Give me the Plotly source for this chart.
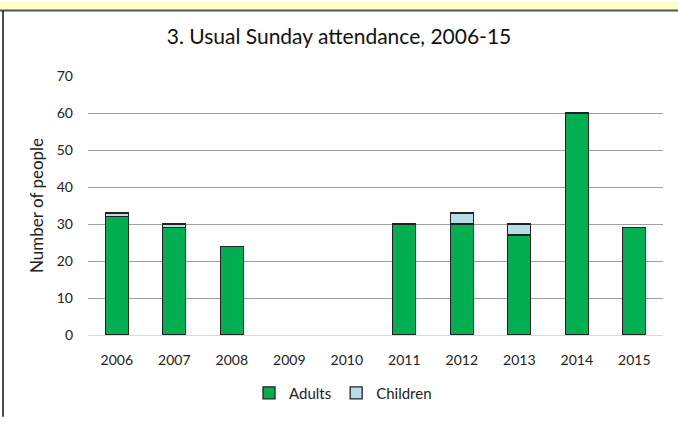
import plotly.graph_objects as go

years = ["2006", "2007", "2008", "2009", "2010", "2011", "2012", "2013", "2014", "2015"]
adults = [32, 29, 24, 0, 0, 30, 30, 27, 60, 29]
children = [1, 1, 0, 0, 0, 0, 3, 3, 0, 0]

W, H = 678, 422
L, R, T, B = 88, 15, 76, 83
pw, ph = W - L - R, H - T - B

def px(x):
    return (x - L) / pw

def py(y):
    return (H - B - y) / ph

def nz(vals):
    return [v if v else None for v in vals]

font = "Lato, 'Open Sans', sans-serif"

fig = go.Figure()
fig.add_trace(go.Bar(x=years, y=nz(adults), name="Adults",
                     marker=dict(color="#00B050", line=dict(color="#222222", width=1.3))))
fig.add_trace(go.Bar(x=years, y=nz(children), name="Children",
                     marker=dict(color="#B7DEE8", line=dict(color="#222222", width=1.3))))

fig.update_layout(
    width=W, height=H,
    margin=dict(l=L, r=R, t=T, b=B),
    barmode="stack", bargap=0.6,
    paper_bgcolor="white", plot_bgcolor="white",
    font=dict(family=font, size=14, color="#222222"),
    title=dict(text="3. Usual Sunday attendance, 2006-15", x=0.5, xanchor="center",
               y=1 - 37 / H, yanchor="middle", font=dict(size=21, family=font, color="#111111")),
    xaxis=dict(showline=True, linecolor="#d9d9d9", linewidth=1, ticks="",
               tickfont=dict(size=14), showgrid=False, ticklabelstandoff=12),
    yaxis=dict(range=[0, 70], dtick=10, showgrid=True, gridcolor="#a0a0a0", gridwidth=1,
               zeroline=False, ticks="", tickfont=dict(size=14), ticklabelstandoff=14,
               title=dict(text="Number of people", font=dict(size=17), standoff=8)),
    legend=dict(orientation="h", x=px(343), xanchor="center", y=py(398), yanchor="middle",
                font=dict(size=15), traceorder="normal", itemwidth=30),
    showlegend=True,
    shapes=[
        dict(type="rect", xref="paper", yref="paper", x0=px(0), x1=px(W), y0=py(0), y1=py(9),
             fillcolor="#FFFFCC", line=dict(width=0), layer="above"),
        dict(type="line", xref="paper", yref="paper", x0=px(0), x1=px(W), y0=py(9.5), y1=py(9.5),
             line=dict(color="#555555", width=2)),
        dict(type="line", xref="paper", yref="paper", x0=px(3), x1=px(3), y0=py(9.5), y1=py(H),
             line=dict(color="#111111", width=1.5)),
    ],
)

fig.write_html(
    "out.html",
    config={"displayModeBar": False},
    post_script=(
        "document.documentElement.style.margin='0px';"
        "document.body.style.margin='0px';"
        "document.body.style.overflow='hidden';"
    ),
)
